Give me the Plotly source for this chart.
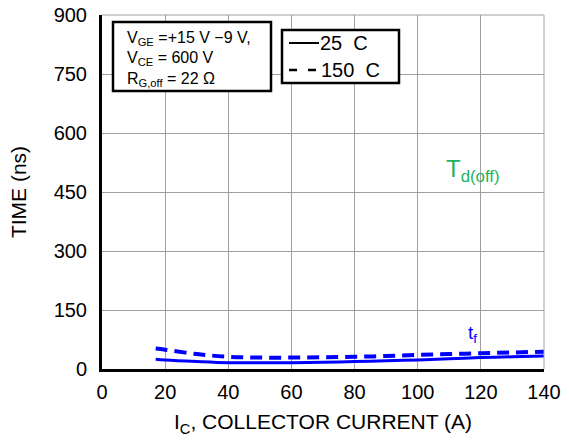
import plotly.graph_objects as go

ic_25 = [17, 20, 30, 40, 50, 60, 70, 80, 90, 100, 110, 120, 130, 140]
tf_25 = [25, 23, 19, 16, 16, 16, 17, 19, 21, 23, 26, 29, 31, 33]
ic_150 = [17, 20, 30, 40, 50, 60, 70, 80, 90, 100, 110, 120, 130, 140]
tf_150 = [52, 49, 38, 31, 29, 29, 30, 31, 33, 36, 38, 40, 42, 44]

x_ticks = [0, 20, 40, 60, 80, 100, 120, 140]
y_ticks = [0, 150, 300, 450, 600, 750, 900]

FONT = "Liberation Sans, Arial, sans-serif"
BLUE = "#0000ff"
GREEN = "#22b35e"
GRID = "#a0a0a0"

# plot area wanted at page pixels x 102..544, y 15..369 (body margin removed below)
FW, FH = 569, 440
L, R, T, B = 102, 544, 15, 369
W, H = R - L, B - T


def px(x):
    return (x - L) / W


def py(y):
    return (B - y) / H


fig = go.Figure()
fig.add_trace(go.Scatter(x=ic_25, y=tf_25, mode="lines", name="25 C",
                         line=dict(color=BLUE, width=3, shape="spline"), showlegend=False))
fig.add_trace(go.Scatter(x=ic_150, y=tf_150, mode="lines", name="150 C",
                         line=dict(color=BLUE, width=4, dash="12px,7px", shape="spline"), showlegend=False))

fig.update_layout(
    width=FW, height=FH,
    margin=dict(l=L, r=FW - R, t=T, b=FH - B, autoexpand=False),
    paper_bgcolor="white", plot_bgcolor="white",
    font=dict(family=FONT, size=20, color="black"),
    showlegend=False,
    xaxis=dict(range=[0, 140], tickvals=x_ticks, showgrid=True, gridcolor=GRID, gridwidth=1,
               showline=True, linecolor="black", linewidth=3, ticks="", automargin=False,
               zeroline=False, ticklabelstandoff=3, ticklabeloverflow="allow",
               title=dict(text="I<sub>C</sub>, COLLECTOR CURRENT (A)", font=dict(size=21), standoff=13)),
    yaxis=dict(range=[0, 900], tickvals=y_ticks, showgrid=True, gridcolor=GRID, gridwidth=1,
               showline=True, linecolor="black", linewidth=3, ticks="", zeroline=False,
               automargin=False, ticklabelstandoff=8, ticklabeloverflow="allow",
               title=dict(text="TIME (ns)", font=dict(size=21), standoff=22)),
)
# gray frame at top and right
fig.add_shape(type="line", xref="paper", yref="paper", x0=0, x1=1, y0=1, y1=1, line=dict(color=GRID, width=1))
fig.add_shape(type="line", xref="paper", yref="paper", x0=1, x1=1, y0=0, y1=1, line=dict(color=GRID, width=1))

# condition box
fig.add_shape(type="rect", xref="paper", yref="paper", x0=px(113), x1=px(271), y0=py(91), y1=py(22),
              line=dict(color="black", width=2.5), fillcolor="white", layer="above")
cond_lines = ["V<sub>GE</sub> =+15 V −9 V,", "V<sub>CE</sub> = 600 V", "R<sub>G,off</sub> = 22 Ω"]
for txt, yc in zip(cond_lines, [38, 59, 79]):
    fig.add_annotation(xref="paper", yref="paper", x=px(126), y=py(yc), xanchor="left", yanchor="middle",
                       text=txt, showarrow=False, font=dict(size=16), borderpad=0)

# legend box
fig.add_shape(type="rect", xref="paper", yref="paper", x0=px(282), x1=px(399), y0=py(83), y1=py(30),
              line=dict(color="black", width=2.5), fillcolor="white", layer="above")
fig.add_shape(type="line", xref="paper", yref="paper", x0=px(289), x1=px(319), y0=py(43), y1=py(43),
              line=dict(color="black", width=2), layer="above")
fig.add_shape(type="line", xref="paper", yref="paper", x0=px(289), x1=px(319), y0=py(70), y1=py(70),
              line=dict(color="black", width=2.5, dash="8px,11px"), layer="above")
fig.add_annotation(xref="paper", yref="paper", x=px(319), y=py(43), xanchor="left", yanchor="middle",
                   text="25  C", showarrow=False, font=dict(size=20), borderpad=0)
fig.add_annotation(xref="paper", yref="paper", x=px(320), y=py(70), xanchor="left", yanchor="middle",
                   text="150  C", showarrow=False, font=dict(size=20), borderpad=0)

fig.add_annotation(x=117.5, y=88, text="t<sub>f</sub>", showarrow=False, font=dict(size=19, color=BLUE))
fig.add_annotation(x=117.5, y=505, text="T<sub>d(off)</sub>", showarrow=False, font=dict(size=24, color=GREEN))

fig.write_html("out.html", config={"displayModeBar": False},
               post_script="document.body.style.margin='0px';")
